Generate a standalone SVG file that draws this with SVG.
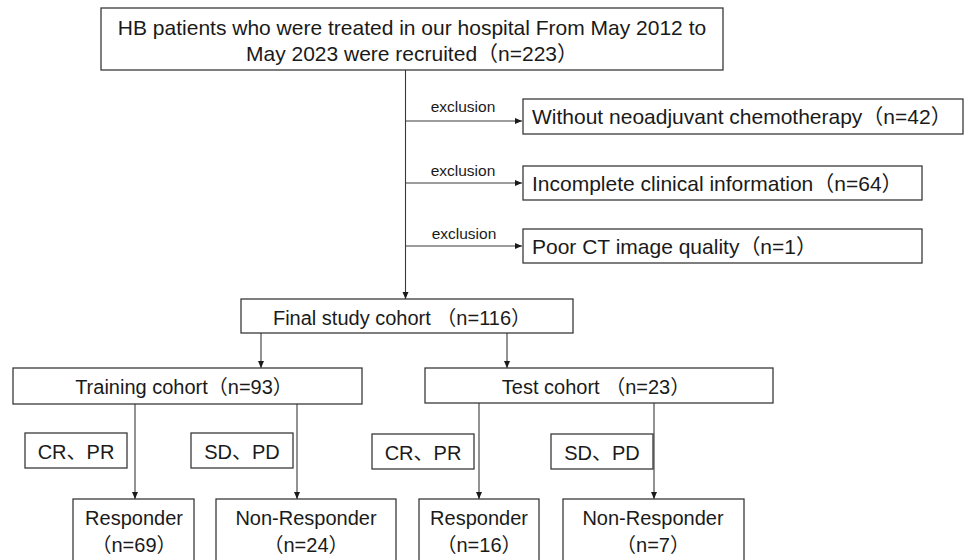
<svg xmlns="http://www.w3.org/2000/svg" width="964" height="560" viewBox="0 0 964 560">
<defs>
<style>
.box{fill:#fff;stroke:#3a3a3a;stroke-width:1.3}
.t{font-family:"Liberation Sans","Noto Sans CJK SC",sans-serif;font-size:20px;fill:#1a1a1a}
.c{text-anchor:middle}
.lbl{font-family:"Liberation Sans",sans-serif;font-size:15.5px;fill:#1a1a1a;text-anchor:middle}
.ln{fill:none;stroke:#3a3a3a;stroke-width:1.1;marker-end:url(#ah)}
</style>
<marker id="ah" markerUnits="userSpaceOnUse" markerWidth="8" markerHeight="8" refX="7" refY="4" orient="auto">
<path d="M0,1 L7,4 L0,7 Z" fill="#1a1a1a"/>
</marker>
</defs>
<rect width="964" height="560" fill="#fff"/>
<g id="connectors">
<path class="ln" d="M405.5 70 V299"/>
<path class="ln" d="M405.5 121 H522"/>
<path class="ln" d="M405.5 183 H522"/>
<path class="ln" d="M405.5 246 H522"/>
<path class="ln" d="M261 333 V368"/>
<path class="ln" d="M507 333 V368"/>
<path class="ln" d="M135 404 V499"/>
<path class="ln" d="M297 404 V499"/>
<path class="ln" d="M479 403 V499"/>
<path class="ln" d="M654 403 V499"/>
<text class="lbl" x="463" y="112">exclusion</text>
<text class="lbl" x="463" y="176">exclusion</text>
<text class="lbl" x="464" y="239">exclusion</text>
</g>
<g id="recruited">
<rect class="box" x="101" y="8" width="622" height="62"/>
<text class="t c" x="412" y="35" style="font-size:21px">HB patients who were treated in our hospital From May 2012 to</text>
<text class="t c" x="412" y="61" style="font-size:21px">May 2023 were recruited（n=223）</text>
</g>
<g id="excl1">
<rect class="box" x="523" y="99" width="440" height="35"/>
<text class="t" x="532" y="124" style="font-size:21px">Without neoadjuvant chemotherapy（n=42）</text>
</g>
<g id="excl2">
<rect class="box" x="523" y="166" width="399" height="34"/>
<text class="t" x="532" y="191" style="font-size:21px">Incomplete clinical information（n=64）</text>
</g>
<g id="excl3">
<rect class="box" x="523" y="229" width="399" height="34"/>
<text class="t" x="532" y="254" style="font-size:21px">Poor CT image quality（n=1）</text>
</g>
<g id="final">
<rect class="box" x="241" y="299" width="332" height="34"/>
<text class="t c" x="402" y="325">Final study cohort （n=116）</text>
</g>
<g id="training">
<rect class="box" x="13" y="368" width="349" height="36"/>
<text class="t c" x="184" y="394">Training cohort（n=93）</text>
</g>
<g id="test">
<rect class="box" x="425" y="368" width="348" height="35"/>
<text class="t c" x="596" y="394">Test cohort （n=23）</text>
</g>
<g id="crpr1">
<rect class="box" x="25" y="433" width="102" height="35"/>
<text class="t c" x="76" y="459">CR、PR</text>
</g>
<g id="sdpd1">
<rect class="box" x="191" y="433" width="102" height="35"/>
<text class="t c" x="242" y="459">SD、PD</text>
</g>
<g id="crpr2">
<rect class="box" x="372" y="434" width="102" height="35"/>
<text class="t c" x="423" y="460">CR、PR</text>
</g>
<g id="sdpd2">
<rect class="box" x="551" y="434" width="102" height="35"/>
<text class="t c" x="602" y="460">SD、PD</text>
</g>
<g id="resp1">
<rect class="box" x="73" y="499" width="121" height="70"/>
<text class="t c" x="134" y="525">Responder</text>
<text class="t c" x="134" y="552">（n=69）</text>
</g>
<g id="nonresp1">
<rect class="box" x="216" y="499" width="180" height="70"/>
<text class="t c" x="306" y="525">Non-Responder</text>
<text class="t c" x="306" y="552">（n=24）</text>
</g>
<g id="resp2">
<rect class="box" x="419" y="499" width="120" height="70"/>
<text class="t c" x="479" y="525">Responder</text>
<text class="t c" x="479" y="552">（n=16）</text>
</g>
<g id="nonresp2">
<rect class="box" x="563" y="499" width="181" height="70"/>
<text class="t c" x="653" y="525">Non-Responder</text>
<text class="t c" x="653" y="552">（n=7）</text>
</g>
</svg>
